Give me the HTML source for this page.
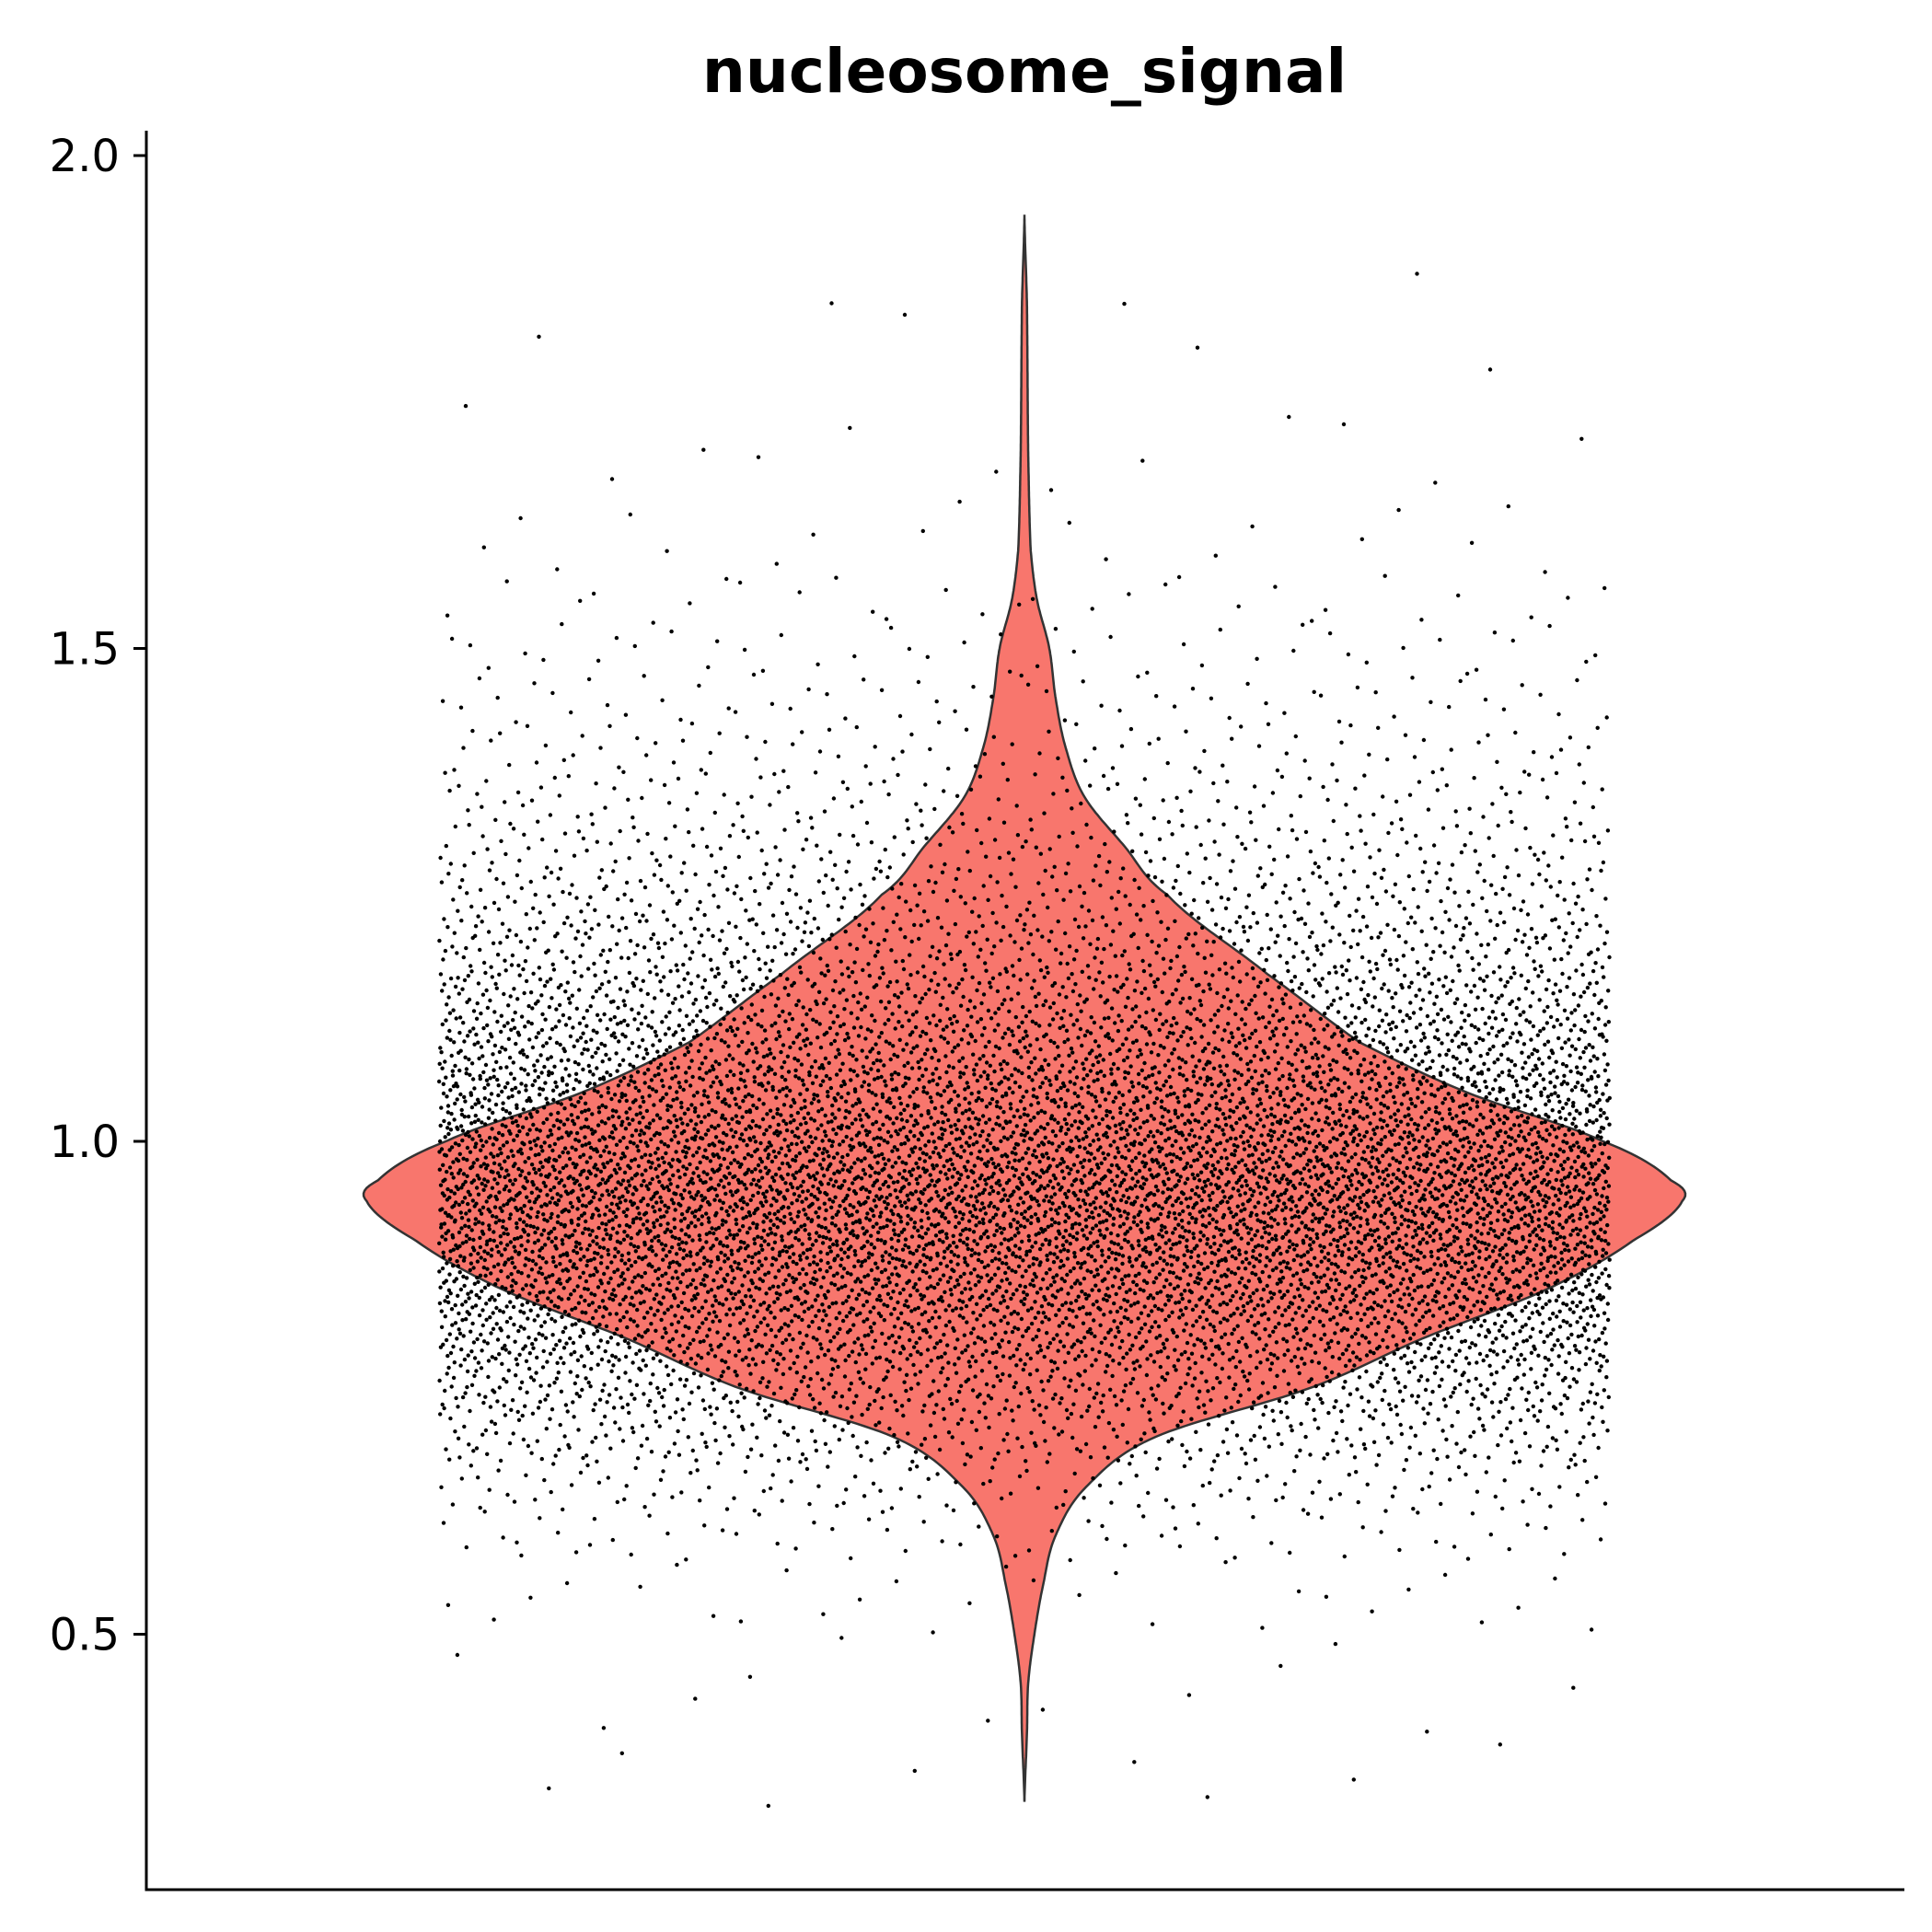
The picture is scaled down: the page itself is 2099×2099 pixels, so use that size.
<!DOCTYPE html>
<html><head><meta charset="utf-8"><style>
html,body{margin:0;padding:0;background:#fff}
svg{display:block}
text{font-family:"DejaVu Sans","Liberation Sans",sans-serif}
</style></head><body>
<svg id="chart" width="2099" height="2099" viewBox="0 0 2099 2099" xmlns="http://www.w3.org/2000/svg">
<text x="1113" y="100" text-anchor="middle" font-weight="bold" font-size="66">nucleosome_signal</text>
<g id="violin"></g>
<g id="points"></g>
<g id="axes"></g>
</svg>
<script>
// violin profile: values and relative half-widths (density)
const violinValues = [0.33,0.40,0.45,0.50,0.55,0.60,0.65,0.70,0.75,0.80,0.85,0.90,0.94,0.96,1.00,1.05,1.10,1.17,1.25,1.30,1.35,1.40,1.45,1.50,1.55,1.60,1.70,1.85,1.94];
const violinDensity = [0,2,3,8,15,25,50,105,230,320,420,490,529,520,465,355,270,195,115,80,48,33,25,20,10,5,3,2,0];
const yTicks = [0.5,1.0,1.5,2.0];
const yTickLabels = ["0.5","1.0","1.5","2.0"];
// scatter points: value bins and approximate counts per bin
const pointBins = [0.35,0.45,0.55,0.60,0.65,0.70,0.75,0.80,0.85,0.90,0.95,1.00,1.05,1.10,1.15,1.20,1.25,1.30,1.35,1.40,1.45,1.50,1.55,1.60,1.70,1.80,1.90];
const pointCounts = [8,12,30,70,150,320,560,860,1150,1400,1480,1300,1060,820,600,420,300,210,140,95,65,45,30,18,12,5,2];

const NS="http://www.w3.org/2000/svg";
const yScale = v => 1240 - (v-1.0)*1071;
const cx = 1113, widthScale = 715/529, jitter = 636;

const axes = document.getElementById('axes');
let sp = document.createElementNS(NS,'line');
sp.setAttribute('x1',159);sp.setAttribute('x2',159);sp.setAttribute('y1',142);sp.setAttribute('y2',2054);
sp.setAttribute('stroke','#000');sp.setAttribute('stroke-width',3);


axes.appendChild(sp);
let sb = document.createElementNS(NS,'line');
sb.setAttribute('x1',157.5);sb.setAttribute('x2',2069);sb.setAttribute('y1',2053);sb.setAttribute('y2',2053);
sb.setAttribute('stroke','#000');sb.setAttribute('stroke-width',3);


axes.appendChild(sb);
yTicks.forEach((t,i)=>{
  const y=yScale(t);
  const tk=document.createElementNS(NS,'line');
  tk.setAttribute('x1',145);tk.setAttribute('x2',159);tk.setAttribute('y1',y);tk.setAttribute('y2',y);
  tk.setAttribute('stroke','#000');tk.setAttribute('stroke-width',3);
  
  
  axes.appendChild(tk);
  const tx=document.createElementNS(NS,'text');
  tx.setAttribute('x',130);tx.setAttribute('y',y+17);tx.setAttribute('text-anchor','end');tx.setAttribute('font-size',48);
  tx.textContent=yTickLabels[i];
  
  
  axes.appendChild(tx);
});

function hw(v){
  const X=violinValues,Y=violinDensity,L=X.length;
  if(v<=X[0]||v>=X[L-1]) return 0;
  let i=0; while(i<L-2 && v>X[i+1]) i++;
  const t=(v-X[i])/(X[i+1]-X[i]);
  const p0=Y[Math.max(i-1,0)],p1=Y[i],p2=Y[i+1],p3=Y[Math.min(i+2,L-1)];
  const r=0.5*((2*p1)+(-p0+p2)*t+(2*p0-5*p1+4*p2-p3)*t*t+(-p0+3*p1-3*p2+p3)*t*t*t);
  return Math.max(r,0);
}
let right=[],left=[];
const v0=violinValues[0],v1=violinValues[violinValues.length-1];
for(let k=0;k<=600;k++){
  const v=v0+(v1-v0)*k/600;
  const w=hw(v)*widthScale;
  right.push((cx+w).toFixed(1)+','+yScale(v).toFixed(1));
  left.unshift((cx-w).toFixed(1)+','+yScale(v).toFixed(1));
}
const vp=document.createElementNS(NS,'path');
vp.setAttribute('d','M'+right.join(' L')+' L'+left.join(' L')+'Z');
vp.setAttribute('fill','#f8766d');vp.setAttribute('stroke','#333');vp.setAttribute('stroke-width',2.5);


document.getElementById('violin').appendChild(vp);

function halton(i,b){let f=1,r=0;while(i>0){f/=b;r+=f*(i%b);i=Math.floor(i/b);}return r;}
const pts=document.getElementById('points');
let frag='';
let n=0;
for(let b=0;b<pointBins.length;b++){
  const lo = b===0 ? pointBins[0]-0.03 : (pointBins[b-1]+pointBins[b])/2;
  const hi = b===pointBins.length-1 ? pointBins[b]+0.04 : (pointBins[b]+pointBins[b+1])/2;
  for(let j=0;j<pointCounts[b];j++){
    n++;
    const u=halton(n+17,2), w=halton(n+17,3);
    const v=lo+(hi-lo)*w;
    const x=cx+(u*2-1)*jitter;
    frag+='<circle cx="'+x.toFixed(1)+'" cy="'+yScale(v).toFixed(1)+'" r="2.2"/>';
  }
}
pts.setAttribute('fill','#000');
pts.innerHTML=frag;
</script>
</body></html>
